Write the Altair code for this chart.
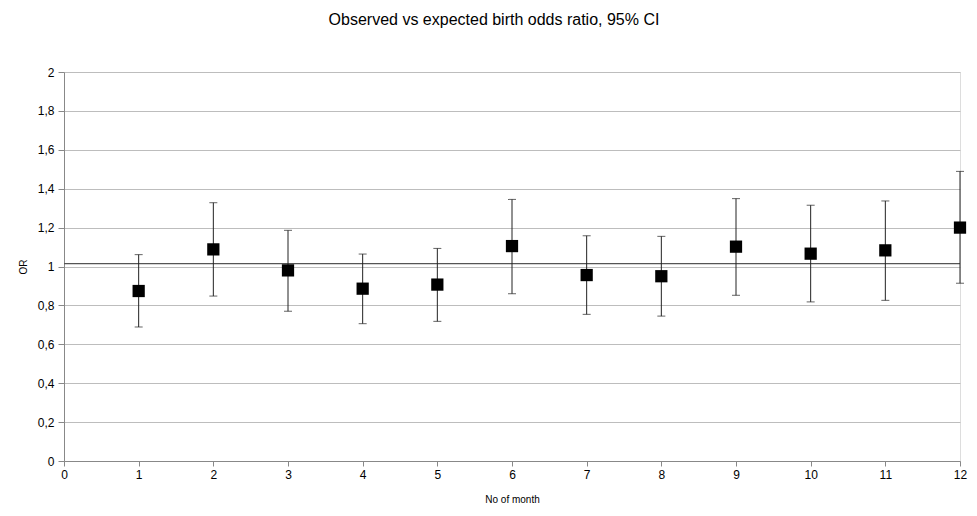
import altair as alt
import pandas as pd

months = [1, 2, 3, 4, 5, 6, 7, 8, 9, 10, 11, 12]
odds_ratio = [0.874, 1.088, 0.980, 0.886, 0.907, 1.105, 0.956, 0.950, 1.102, 1.066, 1.083, 1.200]
ci_lower = [0.689, 0.848, 0.770, 0.706, 0.718, 0.860, 0.754, 0.745, 0.852, 0.818, 0.826, 0.914]
ci_upper = [1.061, 1.328, 1.186, 1.064, 1.093, 1.345, 1.158, 1.155, 1.349, 1.315, 1.337, 1.489]
reference_value = [1.015]
y_ticks = [0, 0.2, 0.4, 0.6, 0.8, 1.0, 1.2, 1.4, 1.6, 1.8, 2.0]

df = pd.DataFrame({"month": months, "or": odds_ratio, "lo": ci_lower, "hi": ci_upper})
ref = pd.DataFrame({"y": reference_value})

FONT = "Liberation Sans"

x = alt.X("month:Q", title="No of month",
          scale=alt.Scale(domain=[0, 12], nice=False),
          axis=alt.Axis(values=list(range(0, 13)), grid=False, tickSize=5,
                        labelFlush=False, labelFontSize=12, labelPadding=3,
                        titleFontSize=10, titlePadding=14, titleFontWeight="normal"))
y_axis = alt.Axis(values=y_ticks, tickCount=11, labelOverlap=False, labelFlush=False,
                  labelExpr="replace(format(datum.value, '~g'), '.', ',')",
                  tickSize=6, labelFontSize=12, labelPadding=4,
                  titleFontSize=10, titlePadding=9, titleFontWeight="normal",
                  gridColor="#bdbdbd")
y_scale = alt.Scale(domain=[0, 2], nice=False)

rule = alt.Chart(ref).mark_rule(color="#555555", strokeWidth=1.2).encode(
    y=alt.Y("y:Q", scale=y_scale, axis=y_axis, title="OR")
)

bars = alt.Chart(df).mark_errorbar(ticks=alt.MarkConfig(size=8, color="#222222"),
                                   color="#222222", thickness=1).encode(
    x=x,
    y=alt.Y("lo:Q", scale=y_scale, axis=y_axis, title="OR"),
    y2="hi:Q",
)

points = alt.Chart(df).mark_point(shape="square", filled=True, size=150,
                                  color="#000000", opacity=1).encode(
    x=x,
    y=alt.Y("or:Q", scale=y_scale, axis=y_axis, title="OR"),
)

chart = alt.layer(rule, bars, points).properties(
    width=896, height=389,
    title=alt.TitleParams("Observed vs expected birth odds ratio, 95% CI",
                          fontSize=16, fontWeight="normal", font=FONT,
                          anchor="middle", dx=-18, offset=38, color="#000000"),
    autosize=alt.AutoSizeParams(type="none"),
    padding={"left": 56, "top": 64, "right": 9, "bottom": 55},
).configure_axis(
    labelFont=FONT, titleFont=FONT, domainColor="#bdbdbd", tickColor="#9e9e9e",
    labelColor="#222222", titleColor="#222222",
).configure_view(stroke="#bdbdbd").configure(background="white")

chart.save("out.html", embed_options={"renderer": "svg", "actions": False})
